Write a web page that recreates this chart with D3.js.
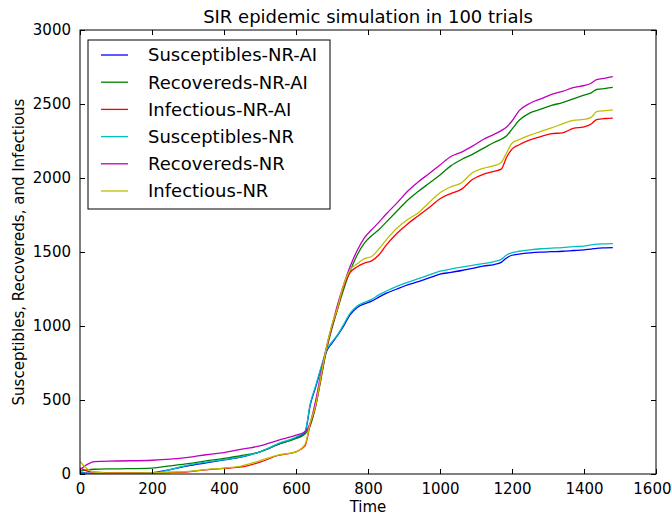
<!DOCTYPE html>
<html>
<head>
<meta charset="utf-8">
<script src="https://cdn.jsdelivr.net/npm/d3@7"></script>
<style>
  html, body { margin: 0; padding: 0; background: #fff; }
  svg { display: block; font-family: "DejaVu Sans", sans-serif; }
</style>
</head>
<body>
<svg id="chart" width="672" height="518"></svg>
<script>
const times = [0, 20, 40, 100, 200, 250, 300, 350, 400, 450, 500, 550, 600, 625, 640, 655, 670, 685, 700, 715, 730, 750, 770, 790, 810, 830, 850, 880, 910, 940, 970, 1000, 1030, 1060, 1090, 1120, 1150, 1170, 1185, 1200, 1220, 1250, 1280, 1310, 1340, 1370, 1400, 1420, 1435, 1460, 1480];

const susceptiblesNRAI = [10, 5, 3, 3, 8, 30, 55, 75, 95, 115, 150, 200, 245, 282, 470, 590, 715, 830, 885, 935, 990, 1075, 1125, 1150, 1168, 1195, 1220, 1250, 1278, 1300, 1325, 1350, 1362, 1375, 1390, 1405, 1415, 1430, 1460, 1478, 1486, 1494, 1499, 1502, 1505, 1510, 1515, 1520, 1525, 1528, 1530];
const recoveredsNRAI = [20, 28, 32, 35, 40, 55, 70, 88, 105, 125, 150, 200, 240, 270, 330, 460, 650, 840, 985, 1110, 1230, 1370, 1480, 1560, 1610, 1650, 1700, 1775, 1850, 1910, 1965, 2020, 2082, 2125, 2160, 2200, 2240, 2262, 2285, 2330, 2390, 2440, 2465, 2490, 2510, 2535, 2560, 2575, 2598, 2605, 2612];
const infectiousNRAI = [40, 20, 12, 8, 8, 10, 15, 28, 38, 48, 80, 125, 150, 190, 340, 465, 660, 850, 1000, 1115, 1250, 1360, 1400, 1425, 1440, 1480, 1545, 1625, 1690, 1745, 1800, 1860, 1895, 1925, 1990, 2025, 2045, 2060, 2140, 2195, 2225, 2257, 2280, 2300, 2305, 2335, 2345, 2365, 2395, 2402, 2405];
const susceptiblesNR = [8, 4, 2, 2, 6, 30, 60, 80, 97, 117, 150, 205, 250, 288, 480, 600, 725, 840, 893, 940, 1000, 1085, 1135, 1160, 1180, 1210, 1235, 1268, 1295, 1320, 1345, 1370, 1385, 1398, 1410, 1422, 1435, 1450, 1480, 1495, 1505, 1515, 1522, 1526, 1530, 1536, 1540, 1548, 1553, 1555, 1557];
const recoveredsNR = [30, 65, 84, 88, 93, 100, 112, 130, 145, 168, 190, 228, 262, 285, 350, 500, 690, 860, 1000, 1140, 1260, 1400, 1510, 1595, 1650, 1700, 1755, 1830, 1910, 1975, 2030, 2088, 2145, 2175, 2215, 2260, 2295, 2320, 2345, 2385, 2455, 2505, 2535, 2565, 2585, 2610, 2625, 2640, 2665, 2675, 2685];
const infectiousNR = [85, 35, 12, 6, 8, 12, 18, 30, 40, 55, 90, 128, 150, 200, 350, 470, 670, 860, 1010, 1120, 1260, 1378, 1420, 1455, 1470, 1520, 1580, 1660, 1720, 1765, 1835, 1900, 1940, 1968, 2035, 2065, 2083, 2105, 2170, 2235, 2260, 2290, 2315, 2338, 2365, 2390, 2396, 2410, 2448, 2455, 2460];

const seriesNames = ["Susceptibles-NR-AI", "Recovereds-NR-AI", "Infectious-NR-AI", "Susceptibles-NR", "Recovereds-NR", "Infectious-NR"];
const seriesColors = ["#0000ff", "#008000", "#ff0000", "#00bfbf", "#bf00bf", "#bfbf00"];
const seriesValues = [susceptiblesNRAI, recoveredsNRAI, infectiousNRAI, susceptiblesNR, recoveredsNR, infectiousNR];

const xTicks = [0, 200, 400, 600, 800, 1000, 1200, 1400, 1600];
const yTicks = [0, 500, 1000, 1500, 2000, 2500, 3000];

const titleText = "SIR epidemic simulation in 100 trials";
const xLabel = "Time";
const yLabel = "Susceptibles, Recovereds, and Infectious";

const svg = d3.select("#chart");
const L = 80, R = 656, T = 30, B = 474;

const x = d3.scaleLinear().domain([0, 1600]).range([L, R]);
const y = d3.scaleLinear().domain([0, 3000]).range([B, T]);

svg.append("defs").append("clipPath").attr("id", "clip")
  .append("rect").attr("x", L).attr("y", T).attr("width", R - L).attr("height", B - T);

const line = d3.line()
  .x((d, i) => x(times[i]))
  .y(d => y(d))
  .curve(d3.curveMonotoneX);

const plot = svg.append("g").attr("clip-path", "url(#clip)");
seriesValues.forEach((vals, k) => {
  plot.append("path")
    .attr("d", line(vals))
    .attr("fill", "none")
    .attr("stroke", seriesColors[k])
    .attr("stroke-width", 1.3)
    .attr("stroke-linejoin", "round");
});

// axes (ticks inward on all four sides)
const tickLen = 5;
const axB = svg.append("g").attr("transform", `translate(0,${B})`)
  .call(d3.axisBottom(x).tickValues(xTicks).tickSize(-tickLen).tickPadding(9).tickFormat(d3.format("d")));
const axT = svg.append("g").attr("transform", `translate(0,${T})`)
  .call(d3.axisTop(x).tickValues(xTicks).tickSize(-tickLen).tickFormat(""));
const axL = svg.append("g").attr("transform", `translate(${L},0)`)
  .call(d3.axisLeft(y).tickValues(yTicks).tickSize(-tickLen).tickPadding(9).tickFormat(d3.format("d")));
const axR = svg.append("g").attr("transform", `translate(${R},0)`)
  .call(d3.axisRight(y).tickValues(yTicks).tickSize(-tickLen).tickFormat(""));

[axB, axT, axL, axR].forEach(a => {
  a.select(".domain").remove();
  a.selectAll(".tick line").attr("stroke", "#000").attr("stroke-width", 1);
  a.selectAll("text").attr("font-family", "DejaVu Sans, sans-serif").attr("font-size", 15).attr("fill", "#000");
});
// keep the last x tick label inside the window
axB.selectAll(".tick text").filter(d => d === 1600)
  .attr("text-anchor", "end").attr("x", 671 - R);

svg.append("rect").attr("x", L).attr("y", T).attr("width", R - L).attr("height", B - T)
  .attr("fill", "none").attr("stroke", "#000").attr("stroke-width", 1);

svg.append("text").attr("x", (L + R) / 2).attr("y", 23).attr("text-anchor", "middle")
  .attr("font-size", 18).text(titleText);
svg.append("text").attr("x", (L + R) / 2).attr("y", 512).attr("text-anchor", "middle")
  .attr("font-size", 15).text(xLabel);
svg.append("text").attr("transform", `translate(24,${(T + B) / 2}) rotate(-90)`).attr("text-anchor", "middle")
  .attr("font-size", 15).text(yLabel);

// legend
const lg = svg.append("g");
lg.append("rect").attr("x", 88).attr("y", 40).attr("width", 242).attr("height", 169)
  .attr("fill", "#fff").attr("stroke", "#000").attr("stroke-width", 1);
seriesNames.forEach((name, k) => {
  const cy = 55 + k * 27.2;
  lg.append("line").attr("x1", 101).attr("x2", 128).attr("y1", cy).attr("y2", cy)
    .attr("stroke", seriesColors[k]).attr("stroke-width", 1.3);
  lg.append("text").attr("x", 148).attr("y", cy).attr("dy", "0.35em")
    .attr("font-size", 18).text(name);
});
</script>
</body>
</html>
